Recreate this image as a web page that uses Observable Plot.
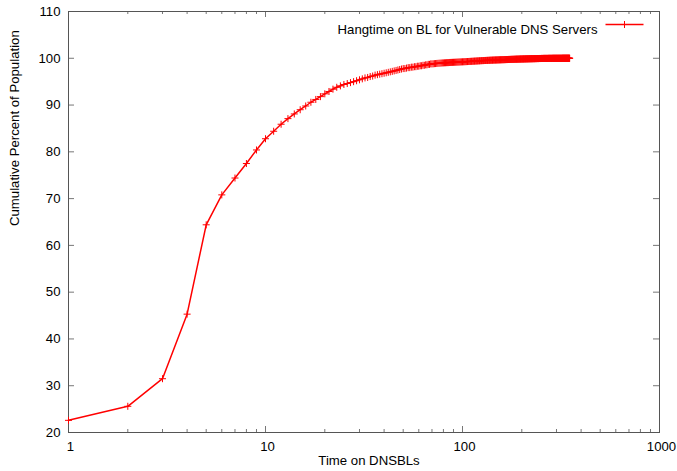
<!DOCTYPE html>
<html><head><meta charset="utf-8">
<script src="https://cdn.jsdelivr.net/npm/d3@7"></script>
<script src="https://cdn.jsdelivr.net/npm/@observablehq/plot@0.6"></script>
<style>body{margin:0;background:#fff}</style>
</head><body><div id="chart"></div>
<script>
const seriesName = "Hangtime on BL for Vulnerable DNS Servers";
const xTitle = "Time on DNSBLs";
const yTitle = "Cumulative Percent of Population";
const xMajorTicks = [1, 10, 100, 1000];
const xMinorTicks = [2,3,4,5,6,7,8,9,20,30,40,50,60,70,80,90,200,300,400,500,600,700,800,900];
const yTicks = [20,30,40,50,60,70,80,90,100,110];
// cumulative percent for day 1, 2, 3, ... (one value per day)
const percent = [
  22.6,25.6,31.5,45.3,64.4,70.8,74.4,77.5,80.4,82.8,
  84.4,85.9,87.1,88.1,89.0,89.8,90.6,91.2,91.8,92.4,
  92.9,93.4,93.8,94.1,94.4,94.6,94.8,95.0,95.2,95.4,
  95.6,95.8,95.9,96.1,96.2,96.4,96.5,96.6,96.7,96.8,
  96.9,97.0,97.1,97.2,97.3,97.4,97.5,97.6,97.7,97.8,
  97.8,97.9,98.0,98.0,98.1,98.1,98.2,98.2,98.3,98.3,
  98.4,98.4,98.5,98.5,98.6,98.6,98.7,98.7,98.8,98.8,
  98.82,98.85,98.87,98.9,98.92,98.94,98.96,98.98,99.0,99.01,
  99.03,99.04,99.06,99.07,99.08,99.1,99.11,99.12,99.13,99.14,
  99.15,99.16,99.17,99.18,99.19,99.2,99.21,99.22,99.23,99.24,
  99.25,99.26,99.27,99.28,99.29,99.3,99.31,99.32,99.33,99.34,
  99.35,99.36,99.37,99.38,99.39,99.4,99.41,99.42,99.43,99.44,
  99.45,99.46,99.47,99.48,99.49,99.5,99.5,99.51,99.52,99.53,
  99.53,99.54,99.55,99.55,99.56,99.57,99.57,99.58,99.59,99.59,
  99.6,99.6,99.61,99.62,99.62,99.63,99.63,99.64,99.64,99.65,
  99.65,99.66,99.66,99.67,99.67,99.68,99.68,99.69,99.69,99.7,
  99.7,99.7,99.71,99.71,99.72,99.72,99.73,99.73,99.73,99.74,
  99.74,99.75,99.75,99.75,99.76,99.76,99.77,99.77,99.77,99.78,
  99.78,99.78,99.79,99.79,99.8,99.8,99.8,99.81,99.81,99.81,
  99.82,99.82,99.82,99.83,99.83,99.83,99.84,99.84,99.84,99.85,
  99.85,99.85,99.85,99.86,99.86,99.86,99.87,99.87,99.87,99.87,
  99.88,99.88,99.88,99.88,99.89,99.89,99.89,99.89,99.9,99.9,
  99.9,99.9,99.9,99.91,99.91,99.91,99.91,99.91,99.92,99.92,
  99.92,99.92,99.92,99.93,99.93,99.93,99.93,99.93,99.94,99.94,
  99.94,99.94,99.94,99.94,99.95,99.95,99.95,99.95,99.95,99.95,
  99.96,99.96,99.96,99.96,99.96,99.96,99.96,99.97,99.97,99.97,
  99.97,99.97,99.97,99.97,99.97,99.97,99.97,99.97,99.97,99.97,
  99.97,99.97,99.98,99.98,99.98,99.98,99.98,99.98,99.98,99.98,
  99.98,99.98,99.98,99.98,99.98,99.99,99.99,99.99,99.99,99.99,
  99.99,99.99,99.99,99.99,99.99,99.99,99.99,99.99,99.99,99.99,
  99.99,99.99,99.99,99.99,99.99,99.99,99.99,99.99,99.99,99.99,
  99.99,99.99,99.99,99.99,99.99,99.99,99.99,99.99,99.99,99.99,
  100,100,100,100,100,100,100,100,100,100,
  100,100,100,100,100,100,100,100,100,100,
  100,100,100,100,100,100,100,100,100,100
];
const hangtime = percent.map((p, i) => ({days: i + 1, percent: p}));

const W = 677, H = 471, mL = 68, mR = 18, mT = 11, mB = 39;
const plotW = W - mL - mR, plotH = H - mT - mB;
const red = "#ff0000", tickColor = "#777", borderColor = "#555";
const majorLen = 6, minorLen = 3;
const legendLine = {draw(ctx) { ctx.moveTo(-19, 0); ctx.lineTo(19, 0); }};

const chart = Plot.plot({
  width: W, height: H,
  marginLeft: mL, marginRight: mR, marginTop: mT, marginBottom: mB,
  style: {fontFamily: "'Liberation Sans', Arial, sans-serif", fontSize: "13.2px", background: "#fff", color: "#000"},
  x: {type: "log", domain: [1, 1000]},
  y: {domain: [20, 110]},
  marks: [
    // ticks (inward, mirrored)
    Plot.ruleX(xMajorTicks, {stroke: tickColor, insetTop: plotH - majorLen}),
    Plot.ruleX(xMajorTicks, {stroke: tickColor, insetBottom: plotH - majorLen}),
    Plot.ruleX(xMinorTicks, {stroke: tickColor, insetTop: plotH - minorLen}),
    Plot.ruleX(xMinorTicks, {stroke: tickColor, insetBottom: plotH - minorLen}),
    Plot.ruleY(yTicks, {stroke: tickColor, insetRight: plotW - majorLen}),
    Plot.ruleY(yTicks, {stroke: tickColor, insetLeft: plotW - majorLen}),
    Plot.frame({stroke: borderColor}),
    Plot.axisX({ticks: xMajorTicks, tickSize: 0, tickPadding: 9, dx: 2, label: null, tickFormat: d => String(d)}),
    Plot.axisY({ticks: yTicks, tickSize: 0, tickPadding: 8, label: null, tickFormat: d => String(d)}),
    Plot.text([xTitle], {frameAnchor: "bottom", dy: 32, dx: 5}),
    Plot.text([yTitle], {frameAnchor: "left", dx: -54, dy: 4, rotate: -90}),
    // data
    Plot.line(hangtime, {x: "days", y: "percent", stroke: red, strokeWidth: 1.5}),
    Plot.dot(hangtime, {x: "days", y: "percent", symbol: "plus", r: 2.4, stroke: red, strokeWidth: 1, fill: "none"}),
    // legend
    Plot.text([seriesName], {frameAnchor: "top-right", textAnchor: "end", dx: -62, dy: 13}),
    Plot.dot([seriesName], {frameAnchor: "top-right", dx: -35, dy: 13, symbol: legendLine, stroke: red, strokeWidth: 1.5, fill: "none"}),
    Plot.dot([seriesName], {frameAnchor: "top-right", dx: -35, dy: 13, symbol: "plus", r: 2.4, stroke: red, strokeWidth: 1, fill: "none"})
  ]
});
document.getElementById("chart").appendChild(chart);
</script>
</body></html>
